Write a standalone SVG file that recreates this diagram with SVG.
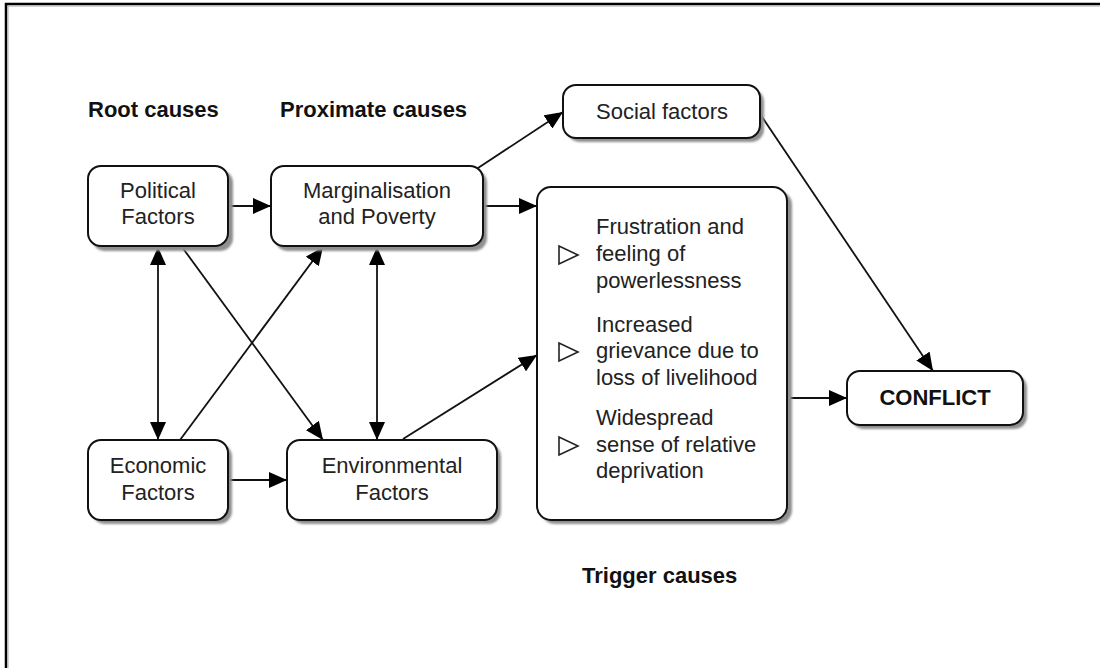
<svg xmlns="http://www.w3.org/2000/svg" width="1100" height="668" viewBox="0 0 1100 668">
<style>
.box{fill:#fff;stroke:#111;stroke-width:2}
.shadow{fill:#8f8f8f;filter:url(#blur)}
.t{font-family:"Liberation Sans",Arial,sans-serif;font-size:22px;fill:#222;text-anchor:middle}
.tl{font-family:"Liberation Sans",Arial,sans-serif;font-size:22px;fill:#222}
.h{font-family:"Liberation Sans",Arial,sans-serif;font-size:22px;font-weight:bold;fill:#111}
.c{stroke:#111;stroke-width:1.8;fill:none}
.bul{fill:#fff;stroke:#222;stroke-width:1.6}
</style>
<defs>
<filter id="blur" x="-10%" y="-10%" width="120%" height="130%"><feGaussianBlur stdDeviation="1"/></filter>
<marker id="ah" markerUnits="userSpaceOnUse" markerWidth="18" markerHeight="16" viewBox="0 0 18 16" refX="18" refY="8" orient="auto-start-reverse"><path d="M0,0 L18,8 L0,16 z" fill="#000"/></marker>
</defs>
<rect width="1100" height="668" fill="#fff"/>
<path d="M6,668 V4 H1100" fill="none" stroke="#000" stroke-width="2.5"/>
<path d="M8,668 V6 H1100" fill="none" stroke="#aaa" stroke-width="1"/>

<g id="headings">
<text class="h" x="88" y="117">Root causes</text>
<text class="h" x="280" y="117">Proximate causes</text>
<text class="h" x="582" y="583">Trigger causes</text>
</g>

<g id="connectors">
<line class="c" x1="228" y1="206" x2="271" y2="206" marker-end="url(#ah)"/>
<line class="c" x1="483" y1="206" x2="537" y2="206" marker-end="url(#ah)"/>
<line class="c" x1="478" y1="168" x2="563" y2="112" marker-end="url(#ah)"/>
<line class="c" x1="760" y1="114" x2="933" y2="371" marker-end="url(#ah)"/>
<line class="c" x1="787" y1="398" x2="847" y2="398" marker-end="url(#ah)"/>
<line class="c" x1="158" y1="247" x2="158" y2="440" marker-start="url(#ah)" marker-end="url(#ah)"/>
<line class="c" x1="182" y1="247" x2="323" y2="440" marker-end="url(#ah)"/>
<line class="c" x1="180" y1="440" x2="323" y2="247" marker-end="url(#ah)"/>
<line class="c" x1="377" y1="247" x2="377" y2="440" marker-start="url(#ah)" marker-end="url(#ah)"/>
<line class="c" x1="403" y1="439" x2="537" y2="355" marker-end="url(#ah)"/>
<line class="c" x1="228" y1="480" x2="287" y2="480" marker-end="url(#ah)"/>
</g>

<g id="political">
<rect class="shadow" x="92" y="170" width="141" height="81" rx="13"/>
<rect class="box" x="88" y="166" width="140" height="80" rx="13"/>
<text class="t" x="158" y="198">Political</text>
<text class="t" x="158" y="224">Factors</text>
</g>

<g id="marginalisation">
<rect class="shadow" x="275" y="170" width="212" height="81" rx="13"/>
<rect class="box" x="271" y="166" width="212" height="80" rx="13"/>
<text class="t" x="377" y="198">Marginalisation</text>
<text class="t" x="377" y="224">and Poverty</text>
</g>

<g id="social">
<rect class="shadow" x="567" y="89" width="197" height="53" rx="13"/>
<rect class="box" x="563" y="85" width="197" height="53" rx="13"/>
<text class="t" x="662" y="119">Social factors</text>
</g>

<g id="trigger">
<rect class="shadow" x="541" y="191" width="251" height="333" rx="14"/>
<rect class="box" x="537" y="187" width="250" height="333" rx="14"/>
<polygon class="bul" points="559,246 559,264 578,255"/>
<text class="tl" x="596" y="234">Frustration and</text>
<text class="tl" x="596" y="261">feeling of</text>
<text class="tl" x="596" y="288">powerlessness</text>
<polygon class="bul" points="559,343 559,361 578,352"/>
<text class="tl" x="596" y="332">Increased</text>
<text class="tl" x="596" y="358">grievance due to</text>
<text class="tl" x="596" y="385">loss of livelihood</text>
<polygon class="bul" points="559,437 559,455 578,446"/>
<text class="tl" x="596" y="425">Widespread</text>
<text class="tl" x="596" y="452">sense of relative</text>
<text class="tl" x="596" y="478">deprivation</text>
</g>

<g id="conflict">
<rect class="shadow" x="851" y="375" width="176" height="54" rx="13"/>
<rect class="box" x="847" y="371" width="176" height="54" rx="13"/>
<text class="h" x="935" y="405" text-anchor="middle">CONFLICT</text>
</g>

<g id="economic">
<rect class="shadow" x="92" y="444" width="140" height="80" rx="13"/>
<rect class="box" x="88" y="440" width="140" height="80" rx="13"/>
<text class="t" x="158" y="473">Economic</text>
<text class="t" x="158" y="500">Factors</text>
</g>

<g id="environmental">
<rect class="shadow" x="291" y="444" width="210" height="80" rx="13"/>
<rect class="box" x="287" y="440" width="210" height="80" rx="13"/>
<text class="t" x="392" y="473">Environmental</text>
<text class="t" x="392" y="500">Factors</text>
</g>
</svg>
